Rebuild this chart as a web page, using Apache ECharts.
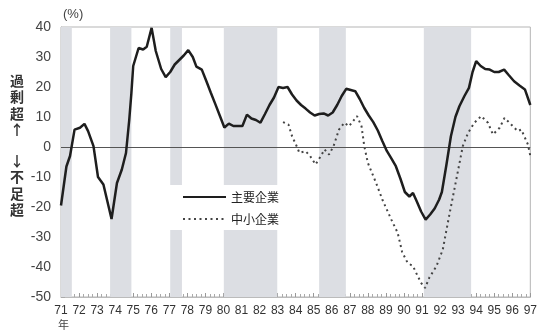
<!DOCTYPE html>
<html><head><meta charset="utf-8">
<script src="https://cdn.jsdelivr.net/npm/echarts@6/dist/echarts.min.js"></script>
<style>html,body{margin:0;padding:0;background:#fff}#c{width:540px;height:335px}</style>
</head><body><div id="c"></div>
<script>
const mainYears = [71.0,71.3,71.5,71.75,72.05,72.3,72.5,72.8,73.05,73.35,73.8,74.1,74.37,74.6,74.78,74.9,75.0,75.3,75.55,75.75,76.02,76.25,76.55,76.8,77.05,77.3,77.55,77.8,78.05,78.3,78.5,78.8,79.05,79.3,79.55,79.8,80.05,80.3,80.55,80.8,81.05,81.3,81.55,81.8,82.05,82.3,82.55,82.8,83.05,83.3,83.55,83.8,84.05,84.3,84.55,84.8,85.05,85.3,85.55,85.8,86.05,86.3,86.55,86.8,87.05,87.3,87.55,87.8,88.05,88.3,88.55,88.8,89.05,89.3,89.55,89.8,90.05,90.3,90.5,90.7,90.95,91.2,91.45,91.7,91.95,92.1,92.35,92.6,92.85,93.07,93.35,93.6,93.8,94.0,94.25,94.5,94.75,95.0,95.25,95.55,95.8,96.1,96.4,96.7,97.0];
const mainValues = [-19.5,-6.5,-3,5.8,6.4,7.7,5.3,0.3,-10,-12.5,-24,-12,-7.5,-2,9,18,27,33,32.5,33.4,39.7,32,26,23.3,25,27.5,29,30.5,32.3,30,26.8,25.8,22,18.1,14.3,10.4,6.5,7.8,7,7,7,10.8,9.5,9,8.1,11,14,16.5,20,19.7,20,17.5,15.5,14,12.8,11.5,10.5,11,11.2,10.5,11.5,14,17,19.4,19,18.6,16,13,10.5,8.3,5.5,2,-1.3,-3.8,-6.4,-10.5,-15,-16.5,-15.3,-18,-21.5,-24.2,-22.5,-20.5,-17.5,-15,-6,3.6,10,13.6,17,19.7,25,28.6,27,26,25.8,25,25,25.8,24,21.9,20.5,19.2,14];
const smeYears = [83.3,83.6,83.8,84.1,84.2,84.55,84.8,85.1,85.4,85.6,85.85,86.1,86.4,86.7,86.95,87.4,87.65,87.8,88.0,88.45,88.8,89.3,89.65,89.9,90.2,90.5,90.67,90.95,91.17,91.4,91.8,92.15,92.5,92.9,93.26,93.55,93.9,94.28,94.65,94.93,95.3,95.57,95.94,96.3,96.5,96.87,97.0];
const smeValues = [8.3,7.5,3.6,-0.3,-1.9,-1.4,-3,-5.8,-3,-0.8,-2.5,0.3,5.8,8.1,6.9,10.3,6.9,0.3,-5.3,-11.9,-17.5,-24.2,-28.6,-35,-38.6,-39.7,-41.9,-45.3,-47,-43.6,-39.7,-34.2,-23,-10.8,0.3,4.7,8.1,10.3,8.1,4.2,6.4,9.7,7.5,5.3,5.8,0.8,-3];
const recessionStarts = [71.0,73.72,77.05,80.02,85.3,91.1];
const recessionEnds = [71.6,74.9,77.7,82.98,86.78,93.72];
const seriesNames = ['主要企業','中小企業'];

const chart = echarts.init(document.getElementById('c'));
const zip = (xs, ys) => xs.map((x, i) => [x, ys[i]]);
chart.setOption({
  animation: false,
  grid: {left: 61, right: 9, top: 27, bottom: 38, show: true, borderColor: '#b5b5b5', borderWidth: 1},
  xAxis: {
    type: 'value', min: 71, max: 97, interval: 1,
    axisLine: {show: true, onZero: false, lineStyle: {color: '#bbb'}},
    axisTick: {show: true, inside: true, length: 4, lineStyle: {color: '#999'}},
    minorTick: {show: true, splitNumber: 4, length: 3, lineStyle: {color: '#aaa'}},
    splitLine: {show: false},
    axisLabel: {color: '#333', fontSize: 12, fontFamily: 'Liberation Sans Narrow, Liberation Sans, sans-serif', margin: 8, formatter: v => String(Math.round(v))}
  },
  yAxis: {
    type: 'value', min: -50, max: 40, interval: 10,
    axisLine: {show: true, lineStyle: {color: '#b5b5b5'}},
    axisTick: {show: true, inside: true, length: 4, lineStyle: {color: '#aaa'}},
    splitLine: {show: false},
    axisLabel: {color: '#444', fontSize: 14, fontFamily: 'Liberation Sans Narrow, Liberation Sans, sans-serif', margin: 10}
  },
  legend: {
    orient: 'vertical', left: 165, top: 185,
    padding: [6, 2, 5, 17], itemGap: 10, itemWidth: 43, itemHeight: 14,
    backgroundColor: '#fff',
    itemStyle: {opacity: 0},
    textStyle: {color: '#222', fontSize: 12, fontFamily: 'Noto Sans CJK JP'},
    data: seriesNames
  },
  graphic: [
    {type: 'text', left: 63, top: 8, style: {text: '(%)', fontSize: 13, fill: '#444', fontFamily: 'Liberation Sans, sans-serif'}},
    {type: 'text', left: 58, top: 319, style: {text: '年', fontSize: 11, fill: '#444', fontFamily: 'Noto Sans CJK JP'}},
    {type: 'text', left: 10, top: 72, style: {text: '過\n剰\n超\n↑', fontSize: 14, lineHeight: 16.5, fontWeight: 'bold', fill: '#333', fontFamily: 'Noto Sans CJK JP', align: 'left'}},
    {type: 'text', left: 10, top: 152, style: {text: '↓\n不\n足\n超', fontSize: 14, lineHeight: 16.5, fontWeight: 'bold', fill: '#333', fontFamily: 'Noto Sans CJK JP', align: 'left'}}
  ],
  series: [
    {
      name: seriesNames[0], type: 'line', data: zip(mainYears, mainValues),
      symbol: 'none', z: 5,
      lineStyle: {color: '#1e1e1e', width: 2.5},
      itemStyle: {color: '#1e1e1e'},
      markArea: {
        silent: true,
        itemStyle: {color: '#dcdee3'},
        data: recessionStarts.map((s, i) => [{xAxis: s}, {xAxis: recessionEnds[i]}])
      },
      markLine: {
        silent: true, symbol: 'none', label: {show: false},
        lineStyle: {color: '#555', width: 1, type: 'solid'},
        data: [{yAxis: 0}]
      }
    },
    {
      name: seriesNames[1], type: 'line', data: zip(smeYears, smeValues),
      symbol: 'none', z: 4,
      lineStyle: {color: '#444', width: 2, type: [2, 3.5]},
      itemStyle: {color: '#444'}
    }
  ]
});
</script></body></html>
